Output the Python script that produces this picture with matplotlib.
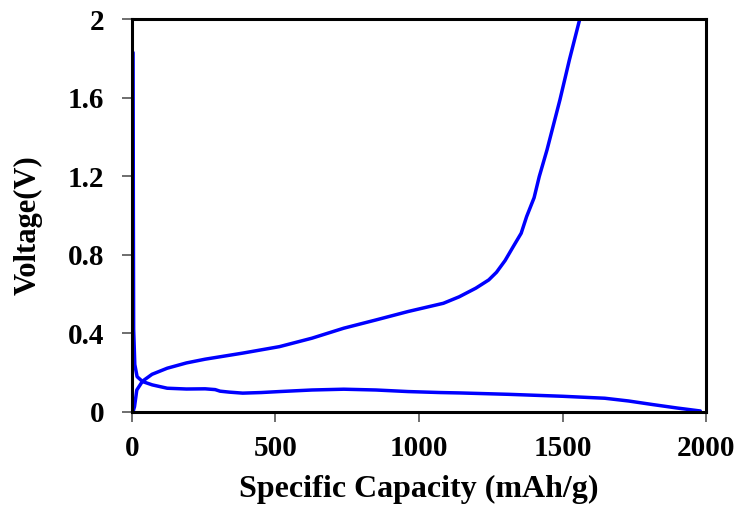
import matplotlib
matplotlib.use('Agg')
import matplotlib.pyplot as plt

# Curva de descarga (litiacion): capacidad (mAh/g) y voltaje (V)
cap_descarga = [4, 5, 6, 10, 18, 37, 71, 123, 190, 255, 290, 307, 340, 386, 450,
                514, 627, 738, 850, 962, 1074, 1142, 1311, 1500, 1647, 1730, 1813, 1900, 1980]
v_descarga = [1.83, 1.0, 0.42, 0.24, 0.178, 0.153, 0.136, 0.119, 0.115, 0.116, 0.112, 0.104,
              0.099, 0.094, 0.097, 0.102, 0.110, 0.114, 0.110, 0.102, 0.097, 0.095, 0.088,
              0.078, 0.068, 0.054, 0.036, 0.018, 0.003]

# Curva de carga (deslitiacion)
cap_carga = [4, 9, 17, 37, 70, 123, 190, 255, 386, 514, 627, 738, 850, 962, 1085,
             1140, 1198, 1243, 1270, 1300, 1330, 1356, 1375, 1401, 1419, 1446, 1491, 1524, 1560]
v_carga = [0.0, 0.025, 0.11, 0.155, 0.190, 0.221, 0.248, 0.267, 0.298, 0.331, 0.374,
           0.425, 0.467, 0.510, 0.552, 0.585, 0.629, 0.671, 0.710, 0.770, 0.845, 0.909,
           0.994, 1.090, 1.198, 1.334, 1.589, 1.793, 2.0]

xticks = [0, 500, 1000, 1500, 2000]
yticks = [0, 0.4, 0.8, 1.2, 1.6, 2.0]
ytick_labels = ['0', '0.4', '0.8', '1.2', '1.6', '2']

plt.rcParams['font.family'] = ['Liberation Serif', 'DejaVu Serif']
plt.rcParams['font.weight'] = 'bold'

fig = plt.figure(figsize=(7.37, 5.05), dpi=100)
ax = fig.add_axes([0.179, 0.185, 0.779, 0.777])

ax.plot(cap_descarga, v_descarga, color='#0000FF', linewidth=2.5,
        solid_joinstyle='round', solid_capstyle='round')
ax.plot(cap_carga, v_carga, color='#0000FF', linewidth=2.5,
        solid_joinstyle='round', solid_capstyle='round')

ax.set_xlim(0, 2000)
ax.set_ylim(0, 2)
ax.set_xticks(xticks)
ax.set_yticks(yticks)
ax.set_yticklabels(ytick_labels)

for lado in ['left', 'right', 'top', 'bottom']:
    ax.spines[lado].set_linewidth(2.2)
    ax.spines[lado].set_color('black')

ax.tick_params(axis='both', direction='out', length=7, width=1.2, color='#555555',
               labelsize=21)
ax.tick_params(axis='x', pad=10)
ax.tick_params(axis='y', pad=13)

ax.set_xlabel('Specific Capacity (mAh/g)', fontsize=23, fontweight='bold', labelpad=9)
ax.set_ylabel('Voltage(V)', fontsize=22, fontweight='bold')
ax.yaxis.set_label_coords(-0.155, 0.475)

fig.savefig('out.png', dpi=100)
